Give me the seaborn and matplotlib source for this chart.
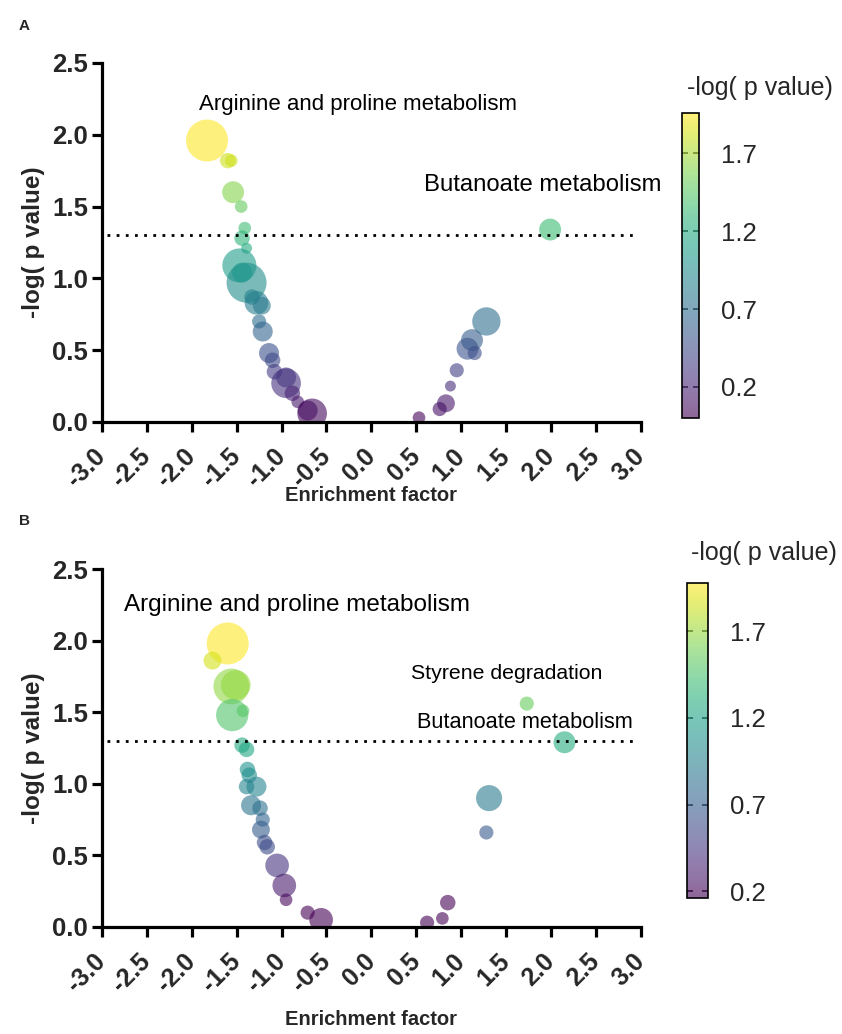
import numpy as np
import pandas as pd
import matplotlib
matplotlib.use("Agg")
import matplotlib.pyplot as plt
import seaborn as sns
from matplotlib.cm import ScalarMappable
from matplotlib.colors import Normalize

# ---------------- data ----------------
# Panel A
ef_a = [-1.83, -1.60, -1.56, -1.54, -1.45, -1.41, -1.44, -1.39, -1.47, -1.39, -1.44,
        -1.28, -1.33, -1.22, -1.25, -1.21, -1.14, -1.10, -1.08, -0.95, -0.95, -0.88,
        -0.82, -0.66, -0.71, 1.99, 1.28, 1.12, 1.07, 1.15, 0.95, 0.88, 0.83, 0.76, 0.53]
logp_a = [1.96, 1.82, 1.82, 1.60, 1.50, 1.35, 1.28, 1.21, 1.09, 0.97, 1.04,
          0.83, 0.87, 0.81, 0.70, 0.63, 0.48, 0.43, 0.35, 0.27, 0.31, 0.20,
          0.14, 0.06, 0.08, 1.34, 0.70, 0.57, 0.51, 0.48, 0.36, 0.25, 0.13, 0.09, 0.03]
count_a = [44, 6, 4, 12, 4, 4, 6, 3, 29, 40, 10,
           14, 6, 8, 5, 10, 10, 6, 6, 22, 10, 6,
           4, 22, 10, 12, 20, 12, 12, 5, 5, 3, 8, 5, 4]

# Panel B
ef_b = [-1.60, -1.77, -1.56, -1.51, -1.55, -1.43, -1.44, -1.39, -1.38, -1.36, -1.39,
        -1.28, -1.34, -1.24, -1.21, -1.23, -1.16, -1.19, -1.05, -0.97, -0.95, -0.71,
        -0.56, 1.73, 2.15, 1.31, 1.28, 0.85, 0.79, 0.62]
logp_b = [1.98, 1.86, 1.68, 1.69, 1.48, 1.51, 1.27, 1.24, 1.10, 1.06, 0.98,
          0.98, 0.85, 0.83, 0.75, 0.68, 0.56, 0.59, 0.43, 0.29, 0.19, 0.10,
          0.05, 1.56, 1.29, 0.90, 0.66, 0.17, 0.06, 0.03]
count_b = [44, 8, 32, 22, 26, 4, 6, 6, 6, 6, 6,
           10, 10, 6, 5, 8, 6, 6, 14, 14, 4, 5,
           14, 5, 12, 17, 5, 6, 4, 5]

x_ticks = [-3.0, -2.5, -2.0, -1.5, -1.0, -0.5, 0.0, 0.5, 1.0, 1.5, 2.0, 2.5, 3.0]
y_ticks = [0.0, 0.5, 1.0, 1.5, 2.0, 2.5]
cbar_ticks = [0.2, 0.7, 1.2, 1.7]
cbar_range_a = (0.0, 1.96)
cbar_range_b = (0.16, 1.98)
threshold = 1.3

labels_a = [("Arginine and proline metabolism", -1.92, 2.21, 16),
            ("Butanoate metabolism", 0.59, 1.65, 17.2)]
labels_b = [("Arginine and proline metabolism", -2.75, 2.25, 17.5),
            ("Styrene degradation", 0.44, 1.77, 15.3),
            ("Butanoate metabolism", 0.51, 1.43, 15.7)]

# ---------------- style ----------------
sns.set_theme(style="white")
plt.rcParams['font.family'] = ['Liberation Sans', 'DejaVu Sans']
plt.rcParams['axes.unicode_minus'] = False

fig = plt.figure(figsize=(8.42, 10.34), dpi=100)

panels = [
    dict(x=ef_a, y=logp_a, c=count_a, rng=cbar_range_a, labels=labels_a, letter="A",
         ax_rect=[0.1211, 0.5919, 0.640, 0.3472], cb_rect=[0.810, 0.5957, 0.020, 0.2950],
         letter_y=0.975, cbt_y=0.915, xlabelpad=-4, cbt_x=0.903),
    dict(x=ef_b, y=logp_b, c=count_b, rng=cbar_range_b, labels=labels_b, letter="B",
         ax_rect=[0.1211, 0.1035, 0.640, 0.3462], cb_rect=[0.816, 0.1315, 0.025, 0.3047],
         letter_y=0.496, cbt_y=0.465, xlabelpad=10, cbt_x=0.907),
]

for p in panels:
    ax = fig.add_axes(p["ax_rect"])
    df = pd.DataFrame({"ef": p["x"], "logp": p["y"], "count": p["c"]})
    sns.scatterplot(data=df, x="ef", y="logp", hue="logp", size="count",
                    palette="viridis", hue_norm=p["rng"],
                    sizes=(0, 1036), size_norm=(0, 50),
                    alpha=0.6, edgecolor="none", linewidth=0,
                    legend=False, ax=ax)
    ax.axhline(threshold, xmin=0.01, xmax=0.99, color="black", lw=2,
               linestyle=(0, (1, 2.3)))
    ax.set_xlim(-3, 3)
    ax.set_ylim(0, 2.5)
    ax.set_xticks(x_ticks)
    ax.set_yticks(y_ticks)
    ax.set_xticklabels([f"{v:.1f}" for v in x_ticks], rotation=45, ha="right",
                       va="center", rotation_mode="anchor",
                       fontsize=18, fontweight="bold")
    ax.set_yticklabels([f"{v:.1f}" for v in y_ticks], fontsize=18.5, fontweight="bold")
    for s in ["top", "right"]:
        ax.spines[s].set_visible(False)
    for s in ["left", "bottom"]:
        ax.spines[s].set_linewidth(2.3)
        ax.spines[s].set_color("black")
    ax.tick_params(axis="both", direction="out", length=7, width=2.3,
                   color="black", pad=3, bottom=True, left=True)
    ax.tick_params(axis="x", pad=15)
    ax.set_xlabel("Enrichment factor", fontsize=14.5, fontweight="bold",
                  labelpad=p["xlabelpad"])
    ax.set_ylabel("-log( p value)", fontsize=17.5, fontweight="bold", labelpad=5)
    for txt, tx, ty, fs in p["labels"]:
        ax.text(tx, ty, txt, fontsize=fs, color="black", ha="left", va="center")

    cax = fig.add_axes(p["cb_rect"])
    sm = ScalarMappable(norm=Normalize(*p["rng"]), cmap="viridis")
    cb = fig.colorbar(sm, cax=cax, alpha=0.6)
    cb.set_ticks(cbar_ticks)
    cb.set_ticklabels([f"{v:.1f}" for v in cbar_ticks])
    cb.outline.set_linewidth(1.2)
    cb.outline.set_edgecolor("black")
    cax.tick_params(axis="y", direction="in", length=4, width=1.2,
                    left=True, right=True, labelsize=18.5, pad=16, color="#222222")
    fig.text(p["cbt_x"], p["cbt_y"], "-log( p value)", fontsize=18,
             ha="center", va="center")
    fig.text(0.022, p["letter_y"], p["letter"], fontsize=11, fontweight="bold",
             ha="left", va="center")

fig.savefig("out.png", dpi=100)
